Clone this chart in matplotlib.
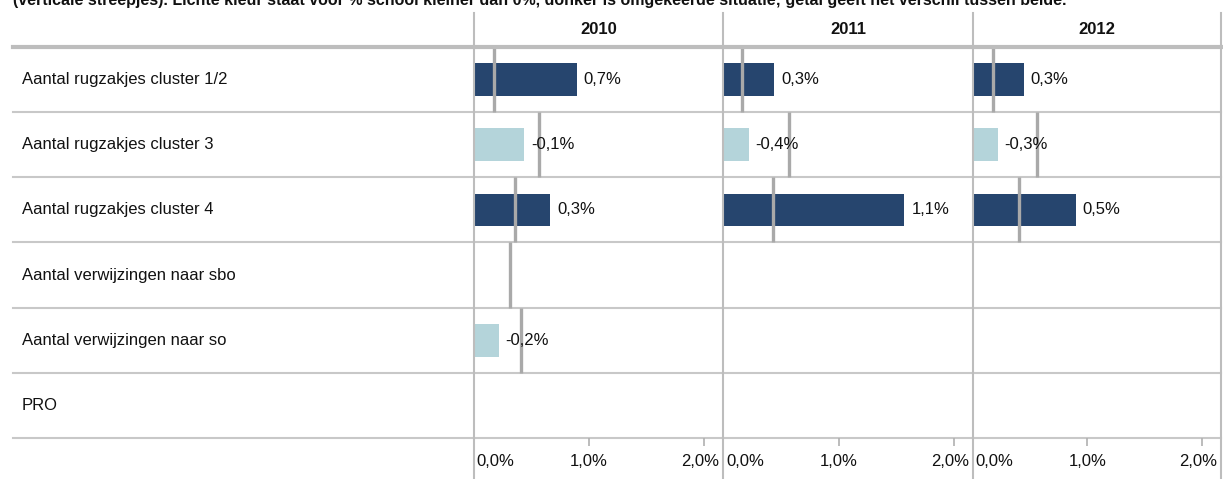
import numpy as np
import matplotlib
matplotlib.use("Agg")
import matplotlib.pyplot as plt
from matplotlib.lines import Line2D
import matplotlib.transforms as mtransforms

plt.rcParams['font.family'] = ['Liberation Sans', 'DejaVu Sans']

# ---------------- data ----------------
years = ['2010', '2011', '2012']
categories = ['Aantal rugzakjes cluster 1/2', 'Aantal rugzakjes cluster 3',
              'Aantal rugzakjes cluster 4', 'Aantal verwijzingen naar sbo',
              'Aantal verwijzingen naar so', 'PRO']
nan = np.nan
# bar length (school value, %)
bar_2010 = [0.895, 0.44, 0.666, nan, 0.218, nan]
bar_2011 = [0.443, 0.22, 1.57, nan, nan, nan]
bar_2012 = [0.445, 0.217, 0.896, nan, nan, nan]
# reference value (vertical gray stripes, %)
ref_2010 = [0.178, 0.57, 0.36, 0.317, 0.415, nan]
ref_2011 = [0.162, 0.57, 0.43, nan, nan, nan]
ref_2012 = [0.179, 0.558, 0.40, nan, nan, nan]
# displayed difference labels (%)
diff_2010 = [0.7, -0.1, 0.3, nan, -0.2, nan]
diff_2011 = [0.3, -0.4, 1.1, nan, nan, nan]
diff_2012 = [0.3, -0.3, 0.5, nan, nan, nan]
x_ticks = [0.0, 1.0, 2.0]
x_tick_labels = ['0,0%', '1,0%', '2,0%']
title_text = ("(verticale streepjes). Lichte kleur staat voor % school kleiner dan 0%, "
              "donker is omgekeerde situatie; getal geeft het verschil tussen beide.")

bars = [bar_2010, bar_2011, bar_2012]
refs = [ref_2010, ref_2011, ref_2012]
diffs = [diff_2010, diff_2011, diff_2012]

# ---------------- style ----------------
DARK = '#26456E'
LIGHT = '#B4D4DA'
REF = '#A9A9A9'
GRID = '#C8C8C8'
TEXT = '#111111'
FS = 12

W, H = 1223, 479
fig = plt.figure(figsize=(W / 100, H / 100), dpi=100)
fig.patch.set_facecolor('white')

def fx(x):
    return x / W

def fy(y):
    return 1 - y / H

top_px, bot_px = 47, 438
left_px = 13
col_edges = [473.5, 723.2, 972.8, 1221.0]
xmax = 2.164
n = len(categories)

# label column
axl = fig.add_axes([fx(left_px), fy(bot_px), fx(col_edges[0] - left_px), (bot_px - top_px) / H])
axl.set_xlim(0, 1)
axl.set_ylim(n, 0)
axl.axis('off')
for i, c in enumerate(categories):
    axl.text(9 / (col_edges[0] - left_px), i + 0.5, c, fontsize=FS, color=TEXT,
             va='center', ha='left')
for b in range(1, n + 1):
    axl.axhline(b, color=GRID, lw=1.5, clip_on=False)

# year panels
for k, yr in enumerate(years):
    x0 = col_edges[k]
    wpx = col_edges[k + 1] - col_edges[k]
    ax = fig.add_axes([fx(x0), fy(bot_px), fx(wpx), (bot_px - top_px) / H])
    ax.set_xlim(0, xmax)
    ax.set_ylim(n, 0)
    for s in ax.spines.values():
        s.set_visible(False)
    ax.set_yticks([])
    ypos = np.arange(n) + 0.5
    vals = np.array(bars[k], dtype=float)
    dv = np.array(diffs[k], dtype=float)
    cols = [DARK if (not np.isnan(d) and d >= 0) else LIGHT for d in dv]
    mask = ~np.isnan(vals)
    ax.barh(ypos[mask], vals[mask], height=0.5, color=np.array(cols)[mask], zorder=2)
    rv = np.array(refs[k], dtype=float)
    rmask = ~np.isnan(rv)
    ax.vlines(rv[rmask], np.arange(n)[rmask], np.arange(n)[rmask] + 1, color=REF, lw=2.4, zorder=3)
    offs = mtransforms.offset_copy(ax.transData, fig=fig, x=7, y=0, units='dots')
    for i in range(n):
        if mask[i] and not np.isnan(dv[i]):
            lab = ('%.1f%%' % dv[i]).replace('.', ',')
            ax.text(vals[i], ypos[i], lab, transform=offs, fontsize=FS, color=TEXT,
                    va='center', ha='left', zorder=4)
    for b in range(1, n + 1):
        ax.axhline(b, color=GRID, lw=1.5, zorder=1, clip_on=False)
    # bottom axis ticks
    ax.set_xticks(x_ticks)
    ax.set_xticklabels(x_tick_labels)
    ax.tick_params(axis='x', direction='out', length=6, width=1.2, color='#B0B0B0',
                   labelsize=FS, labelcolor=TEXT, pad=5.5)
    tls = ax.get_xticklabels()
    tls[0].set_horizontalalignment('left')
    tls[0].set_transform(tls[0].get_transform() + mtransforms.ScaledTranslation(3 / 100, 0, fig.dpi_scale_trans))
    tls[-1].set_transform(tls[-1].get_transform() + mtransforms.ScaledTranslation(-4 / 100, 0, fig.dpi_scale_trans))
    # header
    fig.text(fx(x0 + wpx / 2), fy(30), yr, fontsize=FS, fontweight='bold', color=TEXT,
             ha='center', va='center')

# structural lines
for xe in col_edges:
    fig.add_artist(Line2D([fx(xe), fx(xe)], [fy(13), fy(H + 2)], color='#BDBDBD', lw=1.5))
fig.add_artist(Line2D([fx(left_px), fx(col_edges[-1])], [fy(47), fy(47)], color='#BDBDBD', lw=3))

# title at the very top (partly cropped in the reference screenshot)
fig.text(fx(13), fy(5), title_text, fontsize=11.5, fontweight='bold', color=TEXT,
         ha='left', va='baseline')

fig.savefig('out.png', dpi=100, facecolor='white')
